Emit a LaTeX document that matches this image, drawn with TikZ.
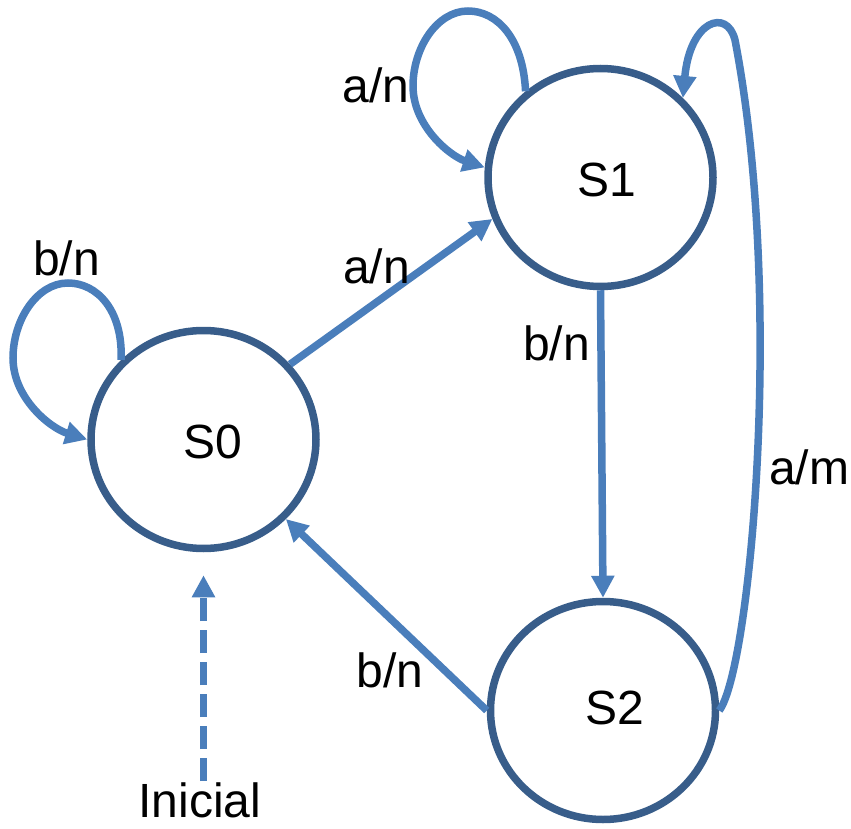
\documentclass[tikz,border=0pt]{standalone}
\usepackage{fontspec}
\setmainfont{Liberation Sans}
\usetikzlibrary{arrows.meta,shapes.geometric}

\definecolor{ringblue}{HTML}{385D8A}
\definecolor{edgeblue}{HTML}{4A7EBB}

\tikzset{
  state/.style={ellipse, draw=ringblue, line width=7.5pt, fill=white,
    minimum width=225pt, minimum height=218pt, inner sep=0pt},
  trans/.style={draw=edgeblue, line width=7.5pt,
    -{Triangle[length=22pt,width=22pt]}},
  lbl/.style={anchor=base, inner sep=0pt, text=black}
}

\begin{document}
\begin{tikzpicture}[x=1pt, y=-1pt, font=\fontsize{48}{58}\selectfont]
  \useasboundingbox (0,0) rectangle (851,829);

  % states
  \node[state, label={[xshift=9pt,yshift=-2.5pt]center:S0}] (S0) at (203.5,439.5) {};
  \node[state, label={[xshift=6.5pt,yshift=-2.5pt]center:S1}] (S1) at (600.5,177.5) {};
  \node[state, label={[xshift=11.5pt,yshift=3pt]center:S2}] (S2) at (603,710.5) {};

  % initial marker
  \node[lbl] (init) at (200,817.5) {Inicial};
  \coordinate (initstart) at (203.5,781);
  \draw[trans, dash pattern=on 23pt off 9pt, shorten >=23pt]
    (initstart) -- (S0.south);

  % self loop on S0
  \draw[trans] (S0.136) .. controls (123,310) and (97,283) .. (68,283)
    .. controls (37,283) and (13,320) .. (13,358)
    .. controls (13,398) and (50,428) .. (S0.west);
  \node[lbl] (l00) at (66.5,275) {b/n};

  % self loop on S1
  \draw[trans] (S1.131) .. controls (523,38) and (497,11) .. (468,11)
    .. controls (437,11) and (413,48) .. (413,86)
    .. controls (413,126) and (450,156) .. (S1.175);
  \node[lbl] (l11) at (376,103) {a/n};

  % S0 -> S1
  \draw[trans] (S0.41) -- (S1.201);
  \node[lbl] (l01) at (376.5,283) {a/n};

  % S1 -> S2
  \draw[trans] (S1.south) -- (S2.north);
  \node[lbl] (l12) at (556.5,360) {b/n};

  % S2 -> S0
  \draw[trans] (S2.west) -- (S0.316);
  \node[lbl] (l20) at (390,687) {b/n};

  % S2 -> S1 around the right side
  \draw[trans] (S2.east) .. controls (750,670) and (785,300) .. (735,40)
    .. controls (727,8) and (690,20) .. (S1.44);
  \node[lbl] (l21) at (809,484) {a/m};
\end{tikzpicture}
\end{document}
